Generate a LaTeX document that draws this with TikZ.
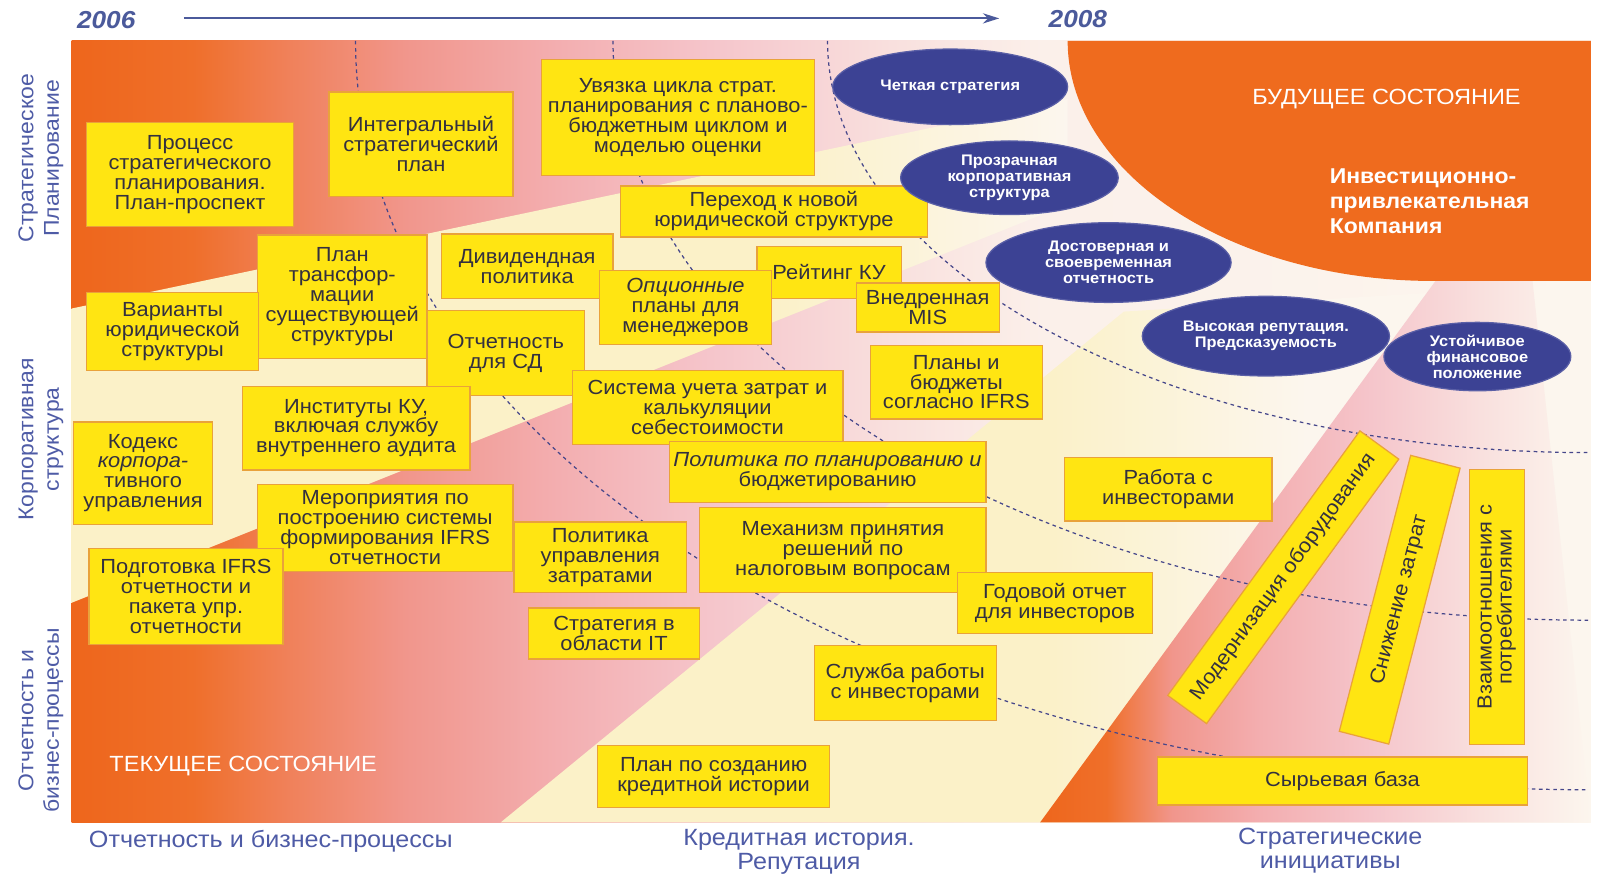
\documentclass[tikz,border=0pt]{standalone}
\usepackage{fontspec}
\setmainfont{Liberation Sans}[FakeStretch=1.07]
\usetikzlibrary{shapes.geometric,arrows.meta}

% palette
\definecolor{boxfill}{HTML}{FFE512}
\definecolor{boxedge}{HTML}{E9A23B}
\definecolor{boxtext}{HTML}{33303F}
\definecolor{navyoval}{HTML}{3C4294}
\definecolor{navyrim}{HTML}{5A5FA6}
\definecolor{futureorange}{HTML}{EF6B1E}
\definecolor{axisblue}{HTML}{4E5BA6}
\definecolor{yearblue}{HTML}{4B5A9B}
\definecolor{dashcol}{HTML}{45468A}
\definecolor{pale}{HTML}{FCF6EE}
\definecolor{cream}{HTML}{FBF1C8}
\definecolor{wA}{HTML}{EE661C}
\definecolor{wB}{HTML}{EF6F2A}
\definecolor{wC}{HTML}{F08058}
\definecolor{wD}{HTML}{F1968C}
\definecolor{wE}{HTML}{F3AEB0}
\definecolor{wF}{HTML}{F5C5CB}
\definecolor{wG}{HTML}{F9E0DE}
\definecolor{wH}{HTML}{FBF0EA}

% warm background: orange on the left fading through pink to pale
\pgfdeclarehorizontalshading{warmfade}{100bp}{color(0bp)=(wA); color(25bp)=(wA); color(29bp)=(wB); color(32bp)=(wC); color(36bp)=(wD); color(41bp)=(wE); color(46bp)=(wF); color(52bp)=(wG); color(57bp)=(wH); color(75bp)=(pale); color(100bp)=(pale)}
% cream band, fading out on the right
\pgfdeclarehorizontalshading{creamA}{100bp}{color(0bp)=(cream); color(60bp)=(cream); color(75bp)=(pale); color(100bp)=(pale)}
\pgfdeclarehorizontalshading{creamB}{100bp}{color(0bp)=(cream); color(50bp)=(cream); color(62bp)=(pale); color(100bp)=(pale)}
% wedge rising towards the future state
\pgfdeclarehorizontalshading{wedgefade}{100bp}{color(0bp)=(wA); color(25bp)=(wA); color(31bp)=(wB); color(37bp)=(wD); color(45bp)=(wE); color(55bp)=(wF); color(65bp)=(wG); color(75bp)=(pale); color(100bp)=(pale)}

\newcommand\bxfont{\fontsize{20}{19.5}\selectfont}
\newcommand\ovfont{\fontsize{15}{15.5}\selectfont\bfseries}
\newcommand\axfont{\fontsize{21}{25}\selectfont}
\newcommand\yb[6]{\node[ybox,minimum width={(#4-#2)*1pt},minimum height={(#5-#3)*1pt}] (#1) at ({(#2+#4)/2},{(#3+#5)/2}) {#6};}

\begin{document}
\begin{tikzpicture}[x=1pt,y=-1pt,
  ybox/.style={draw=boxedge,line width=1.2pt,fill=boxfill,text=boxtext,align=center,inner sep=1pt,font=\bxfont},
  oval/.style={ellipse,fill=navyoval,draw=navyrim,line width=1.2pt,text=white,inner sep=0pt,align=center,font=\ovfont},
  axislabel/.style={text=axisblue,align=center,font=\axfont},
  bottomlabel/.style={text=axisblue,align=center,font=\fontsize{23}{23.5}\selectfont},
  arcline/.style={draw=dashcol,line width=1.2pt,dash pattern=on 3.5pt off 3.5pt},
  year/.style={text=yearblue,font=\fontsize{24}{24}\selectfont\bfseries\itshape}]

\useasboundingbox (0,0) rectangle (1568,858);
\fill[white] (0,0) rectangle (1568,858);

% ---- background panel ----
\shade[shading=warmfade] (70,40) rectangle (1557,805);
\shade[shading=creamA] (70,302) -- (1045,97) -- (1045,200) -- (70,590) -- cycle;
\shade[shading=creamB] (490,805) -- (1100,305) -- (1557,277) -- (1557,805) -- cycle;
\shade[shading=wedgefade] (1018,805) -- (1405,275) -- (1500,275) -- (1557,805) -- cycle;

% future state corner
\fill[futureorange] (1045,40) arc[start angle=180,end angle=90,x radius=358,y radius=235]
  -- (1557,275) -- (1557,40) -- cycle;

% concentric milestone arcs
\draw[arcline] (348,40) arc[start angle=180,end angle=90,x radius=1207,y radius=733];
\draw[arcline] (600,40) arc[start angle=180,end angle=90,x radius=955,y radius=567];
\draw[arcline] (810,40) arc[start angle=180,end angle=90,x radius=745,y radius=403];

% ---- time axis ----
\node[year] (y2006) at (104,20) {2006};
\node[year] (y2008) at (1055,19) {2008};
\coordinate (tstart) at (180,18);
\coordinate (tend) at (978,18);
\draw[draw=yearblue,line width=2pt,-{Stealth[length=16pt,width=10pt]}] (tstart) -- (tend);

% ---- state captions ----
\node[text=white,font=\fontsize{21.5}{24}\selectfont] (future) at (1357,97) {БУДУЩЕЕ СОСТОЯНИЕ};
\node[text=white,align=left,anchor=west,font=\fontsize{21}{24.5}\selectfont\bfseries] (goal) at (1298,197) {Инвестиционно-\\привлекательная\\Компания};
\node[text=white,font=\fontsize{21.5}{24}\selectfont] (current) at (238,750) {ТЕКУЩЕЕ СОСТОЯНИЕ};

% ---- initiatives ----
\yb{b1}{85}{120}{287}{222}{Процесс\\стратегического\\планирования.\\План-проспект}
\yb{b2}{322}{90}{502}{192}{Интегральный\\стратегический\\план}
\yb{b3}{530}{58}{797}{172}{Увязка цикла страт.\\планирования с планово-\\бюджетным циклом и\\моделью оценки}
\yb{b4}{607}{182}{908}{232}{Переход к новой\\юридической структуре}
\yb{b5}{432}{229}{600}{292}{Дивидендная\\политика}
\yb{b6}{252}{230}{418}{351}{План\\трансфор-\\мации\\существующей\\структуры}
\yb{b7}{85}{286}{253}{363}{Варианты\\юридической\\структуры}
\yb{b8}{741}{241}{882}{292}{Рейтинг КУ}
\yb{b9}{587}{265}{755}{337}{\textit{Опционные}\\планы для\\менеджеров}
\yb{b10}{838}{277}{978}{325}{Внедренная\\MIS}
\yb{b11}{418}{304}{572}{387}{Отчетность\\для СД}
\yb{b12}{560}{363}{825}{435}{Система учета затрат и\\калькуляции\\себестоимости}
\yb{b13}{852}{338}{1020}{410}{Планы и\\бюджеты\\согласно IFRS}
\yb{b14}{237}{378}{460}{460}{Институты КУ,\\включая службу\\внутреннего аудита}
\yb{b15}{72}{413}{208}{513}{Кодекс\\\textit{корпора-}\\тивного\\управления}
\yb{b16}{655}{432}{965}{492}{\textit{Политика по планированию и}\\бюджетированию}
\yb{b17}{1042}{448}{1245}{510}{Работа с\\инвесторами}
\yb{b18}{252}{474}{502}{559}{Мероприятия по\\построению системы\\формирования IFRS\\отчетности}
\yb{b19}{503}{511}{672}{580}{Политика\\управления\\затратами}
\yb{b20}{685}{497}{965}{580}{Механизм принятия\\решений по\\налоговым вопросам}
\yb{b21}{87}{537}{277}{631}{Подготовка IFRS\\отчетности и\\пакета упр.\\отчетности}
\yb{b22}{937}{560}{1128}{620}{Годовой отчет\\для инвесторов}
\yb{b23}{517}{595}{685}{645}{Стратегия в\\области IT}
\yb{b24}{797}{632}{975}{705}{Служба работы\\с инвесторами}
\yb{b25}{585}{730}{812}{790}{План по созданию\\кредитной истории}
\yb{b26}{1133}{741}{1495}{788}{Сырьевая база}

% strategic initiatives (tilted)
\node[ybox,rotate=54,minimum width=320pt,minimum height=47pt] (b27) at (1256,565) {Модернизация оборудования};
\node[ybox,rotate=75.5,minimum width=279pt,minimum height=50pt] (b28) at (1370,587) {Снижение затрат};
\node[ybox,rotate=90,minimum width=269pt,minimum height=54pt] (b29) at (1465,594) {Взаимоотношения с\\потребителями};

% ---- target qualities ----
\node[oval,minimum width=230pt,minimum height=74pt] (e1) at (930,85) {Четкая стратегия};
\node[oval,minimum width=213pt,minimum height=72pt] (e2) at (988,174) {Прозрачная\\корпоративная\\структура};
\node[oval,minimum width=240pt,minimum height=78pt] (e3) at (1085,257) {Достоверная и\\своевременная\\отчетность};
\node[oval,minimum width=242pt,minimum height=78pt] (e4) at (1239,329) {Высокая репутация.\\Предсказуемость};
\node[oval,minimum width=183pt,minimum height=67pt] (e5) at (1446,349) {Устойчивое\\финансовое\\положение};

% ---- axis captions ----
\node[axislabel,rotate=90] (ax1) at (40,155) {Стратегическое\\Планирование};
\node[axislabel,rotate=90] (ax2) at (40,430) {Корпоративная\\структура};
\node[axislabel,rotate=90] (ax3) at (40,705) {Отчетность и\\бизнес-процессы};
\node[bottomlabel] (bx1) at (265,823) {Отчетность и бизнес-процессы};
\node[bottomlabel] (bx2) at (782,834) {Кредитная история.\\Репутация};
\node[bottomlabel] (bx3) at (1302,833) {Стратегические\\инициативы};
\end{tikzpicture}
\end{document}
